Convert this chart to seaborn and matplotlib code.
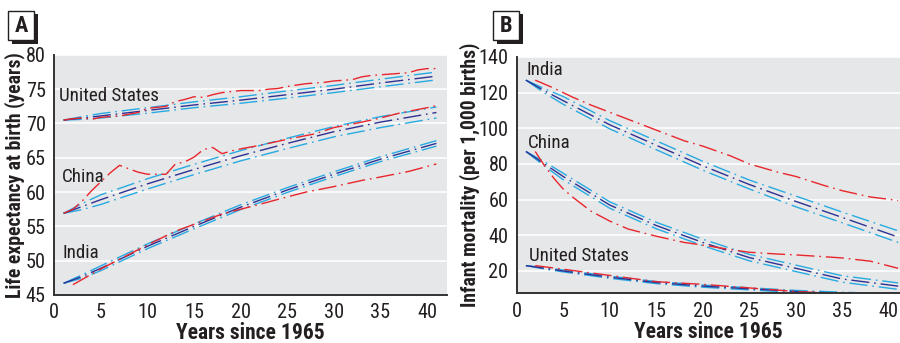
import matplotlib
matplotlib.use("Agg")
import matplotlib.pyplot as plt
from matplotlib import font_manager
from matplotlib.patches import Rectangle
import seaborn as sns

# model years (shared by the three projection lines of each country)
model_years = [1, 3, 5, 10, 15, 20, 25, 30, 35, 41]

# Panel A: life expectancy at birth (years)
le_us_mean = [70.5, 70.8, 71.1, 71.9, 72.7, 73.4, 74.2, 75.0, 75.9, 76.9]
le_us_hi = [70.5, 71.0, 71.45, 72.3, 73.15, 73.9, 74.75, 75.55, 76.45, 77.5]
le_us_lo = [70.5, 70.6, 70.8, 71.5, 72.3, 72.95, 73.7, 74.5, 75.35, 76.35]
le_cn_mean = [56.9, 57.9, 58.9, 61.2, 63.3, 65.3, 67.1, 68.8, 70.2, 71.6]
le_cn_hi = [56.9, 58.35, 59.6, 61.95, 64.05, 66.05, 67.85, 69.55, 71.0, 72.4]
le_cn_lo = [56.9, 57.45, 58.2, 60.45, 62.55, 64.55, 66.35, 68.05, 69.4, 70.8]
le_in_mean = [46.7, 47.7, 48.9, 52.1, 55.0, 57.8, 60.3, 62.6, 64.8, 67.1]
le_in_hi = [46.7, 47.95, 49.25, 52.45, 55.35, 58.15, 60.65, 62.95, 65.15, 67.5]
le_in_lo = [46.7, 47.45, 48.55, 51.75, 54.65, 57.45, 59.95, 62.25, 64.45, 66.7]

le_us_obs_years = [1, 2, 3, 4, 5, 7, 9, 10, 12, 13, 14, 15, 16, 17, 18, 20, 22, 23,
                   24, 25, 27, 29, 30, 32, 33, 34, 36, 38, 39, 40, 41]
le_us_obs = [70.5, 70.7, 70.8, 70.6, 70.9, 71.1, 71.6, 72.2, 72.5, 73.2, 73.5, 73.9,
             73.8, 74.2, 74.5, 74.8, 74.8, 75.0, 75.1, 75.4, 75.8, 76.0, 76.2, 76.4,
             76.8, 77.0, 77.2, 77.4, 77.8, 78.0, 78.0]
le_cn_obs_years = [1, 2, 3, 4, 5, 6, 7, 9, 10, 12, 13, 14, 15, 16, 17, 18, 19, 20,
                   22, 25, 28, 30, 33, 35, 37, 40, 41]
le_cn_obs = [56.9, 57.5, 58.7, 60.2, 61.5, 62.8, 63.9, 62.9, 62.6, 62.6, 64.1, 64.4,
             65.1, 66.2, 66.5, 65.6, 66.0, 66.3, 66.8, 67.7, 68.5, 69.4, 70.2, 70.8,
             71.5, 72.3, 72.6]
le_in_obs_years = [2, 5, 10, 13, 15, 18, 20, 22, 25, 27, 30, 33, 35, 38, 41]
le_in_obs = [46.5, 48.8, 52.3, 54.3, 55.3, 56.8, 57.5, 58.2, 59.3, 60.0, 60.8, 61.7,
             62.2, 63.0, 64.1]

# Panel B: infant mortality (per 1,000 births)
im_in_mean = [127, 121, 115.5, 102, 90.5, 79, 68.5, 59, 50, 39]
im_in_hi = [127, 122.2, 117.8, 104.3, 93, 81.5, 71, 62, 53, 42.5]
im_in_lo = [127, 119.8, 113.5, 99.7, 88, 76.5, 66, 56, 47, 36]
im_cn_mean = [87, 80, 73, 57, 45.5, 36, 27.5, 21.5, 15.5, 11.5]
im_cn_hi = [87, 81.2, 74.8, 58.8, 47.3, 37.8, 29.3, 23.3, 17.3, 13.3]
im_cn_lo = [87, 78.8, 71.2, 55.2, 43.7, 34.2, 25.7, 19.7, 13.7, 9.7]
im_us_mean = [23, 21.5, 20, 16.5, 13.5, 11.5, 10, 8.5, 7.5, 6.5]
im_us_hi = [23, 21.9, 20.5, 17.1, 14.1, 12.1, 10.6, 9.1, 8.1, 7.1]
im_us_lo = [23, 21.1, 19.5, 15.9, 12.9, 10.9, 9.4, 7.9, 6.9, 5.9]

im_in_obs_years = [2, 4, 6, 8, 10, 12, 15, 18, 20, 23, 25, 28, 30, 33, 35, 38, 41]
im_in_obs = [127, 122.5, 117.5, 113, 109, 105, 99, 93, 90, 84.5, 80, 75.5, 73, 68,
             65, 61.5, 59.5]
im_cn_obs_years = [2, 3, 4, 5, 6, 8, 10, 12, 15, 18, 20, 23, 25, 28, 30, 33, 35, 38, 41]
im_cn_obs = [87, 79, 72, 66, 61.5, 53.5, 48, 43.5, 39.5, 36, 34.5, 32, 30.5, 29.5,
             29, 28, 27.3, 25.5, 21.5]
im_us_obs_years = [2, 5, 10, 15, 20, 25, 30, 34, 38]
im_us_obs = [23, 21, 17.5, 14, 12.5, 10.5, 8.5, 7.5, 6.8]

RED = "#e8262d"
LIGHT = "#27aae1"
DARK = "#2e3192"
INK = "#231f20"
DASH = (0, (13, 3.5, 1.2, 3.5))

sns.set_style("darkgrid", {
    "axes.facecolor": "#e6e7e8",
    "grid.color": "white",
    "axes.edgecolor": "#333333",
})

# pick a narrow face if one is installed
installed = {(f.name, f.stretch) for f in font_manager.fontManager.ttflist}
names = {n for n, _ in installed}
if "Liberation Sans Narrow" in names:
    plt.rcParams["font.family"] = ["Liberation Sans Narrow", "DejaVu Sans"]
elif "Roboto Condensed" in names:
    plt.rcParams["font.family"] = ["Roboto Condensed", "DejaVu Sans"]
else:
    plt.rcParams["font.family"] = ["DejaVu Sans"]
    if ("DejaVu Sans", "condensed") in installed:
        plt.rcParams["font.stretch"] = "condensed"

fig = plt.figure(figsize=(9, 3.43), dpi=100)

# scale all type so that the long y label is about 245 px long, as in the reference
probe = fig.text(0, 0, "Life expectancy at birth (years)", fontsize=15,
                 fontweight="bold")
width = probe.get_window_extent(renderer=fig.canvas.get_renderer()).width
probe.remove()
k = min(1.0, 245.0 / width)

axA = fig.add_axes([0.0603, 0.140, 0.436, 0.700])
axB = fig.add_axes([0.574, 0.145, 0.426, 0.689])


def draw_country(ax, mean, hi, lo, obs_x, obs_y):
    for vals, col in [(hi, LIGHT), (lo, LIGHT), (mean, DARK)]:
        sns.lineplot(x=model_years, y=vals, ax=ax, color=col, lw=1.0,
                     linestyle=DASH)
    sns.lineplot(x=obs_x, y=obs_y, ax=ax, color=RED, lw=1.0, linestyle=DASH)


draw_country(axA, le_us_mean, le_us_hi, le_us_lo, le_us_obs_years, le_us_obs)
draw_country(axA, le_cn_mean, le_cn_hi, le_cn_lo, le_cn_obs_years, le_cn_obs)
draw_country(axA, le_in_mean, le_in_hi, le_in_lo, le_in_obs_years, le_in_obs)

draw_country(axB, im_in_mean, im_in_hi, im_in_lo, im_in_obs_years, im_in_obs)
draw_country(axB, im_cn_mean, im_cn_hi, im_cn_lo, im_cn_obs_years, im_cn_obs)
draw_country(axB, im_us_mean, im_us_hi, im_us_lo, im_us_obs_years, im_us_obs)

axA.set_xlim(0, 42.1)
axA.set_ylim(45, 80)
axA.set_yticks(range(45, 81, 5))
axB.set_xlim(0, 41.2)
axB.set_ylim(7.5, 140)
axB.set_yticks(range(20, 141, 20))

for ax in (axA, axB):
    ax.set_xticks(range(0, 41, 5))
    ax.grid(axis="x", visible=False)
    ax.grid(axis="y", color="white", lw=1.2)
    ax.spines["top"].set_visible(False)
    ax.spines["right"].set_visible(False)
    ax.spines["left"].set_linewidth(1.4)
    ax.spines["bottom"].set_linewidth(1.4)
    ax.tick_params(axis="both", length=4, width=1.2, color="#333333",
                   labelsize=15.5 * k, pad=2, labelcolor=INK)
    ax.set_xlabel("Years since 1965", fontsize=16.5 * k, fontweight="bold",
                  labelpad=0, color=INK)

axA.set_ylabel("Life expectancy at birth (years)", fontsize=15 * k,
               fontweight="bold", color=INK)
axB.set_ylabel("Infant mortality (per 1,000 births)", fontsize=15 * k,
               fontweight="bold", color=INK)
axA.yaxis.set_label_coords(-0.075, 0.5)
axB.yaxis.set_label_coords(-0.096, 0.5)

lab = dict(fontsize=14.5 * k, color=INK)
axA.text(0.5, 73.3, "United States", **lab)
axA.text(0.8, 61.4, "China", **lab)
axA.text(0.9, 50.4, "India", **lab)
axB.text(1.1, 130, "India", **lab)
axB.text(1.2, 89, "China", **lab)
axB.text(1.3, 25.5, "United States", **lab)


def panel_tag(x0, letter):
    # box with a drop shadow, positions in pixels of the 900x343 figure
    W, H = 900.0, 343.0
    shadow = Rectangle(((x0 + 4) / W, 1 - 44 / H), 26 / W, 30 / H,
                       transform=fig.transFigure, facecolor=INK,
                       edgecolor="none")
    box = Rectangle((x0 / W, 1 - 40 / H), 26 / W, 29 / H,
                    transform=fig.transFigure, facecolor="white",
                    edgecolor=INK, lw=1.0)
    fig.patches.extend([shadow, box])
    fig.text((x0 + 13) / W, 1 - 25.5 / H, letter, ha="center", va="center",
             fontsize=17 * max(k, 0.85), fontweight="bold", color=INK)


panel_tag(8, "A")
panel_tag(493, "B")

fig.savefig("out.png", dpi=100)
